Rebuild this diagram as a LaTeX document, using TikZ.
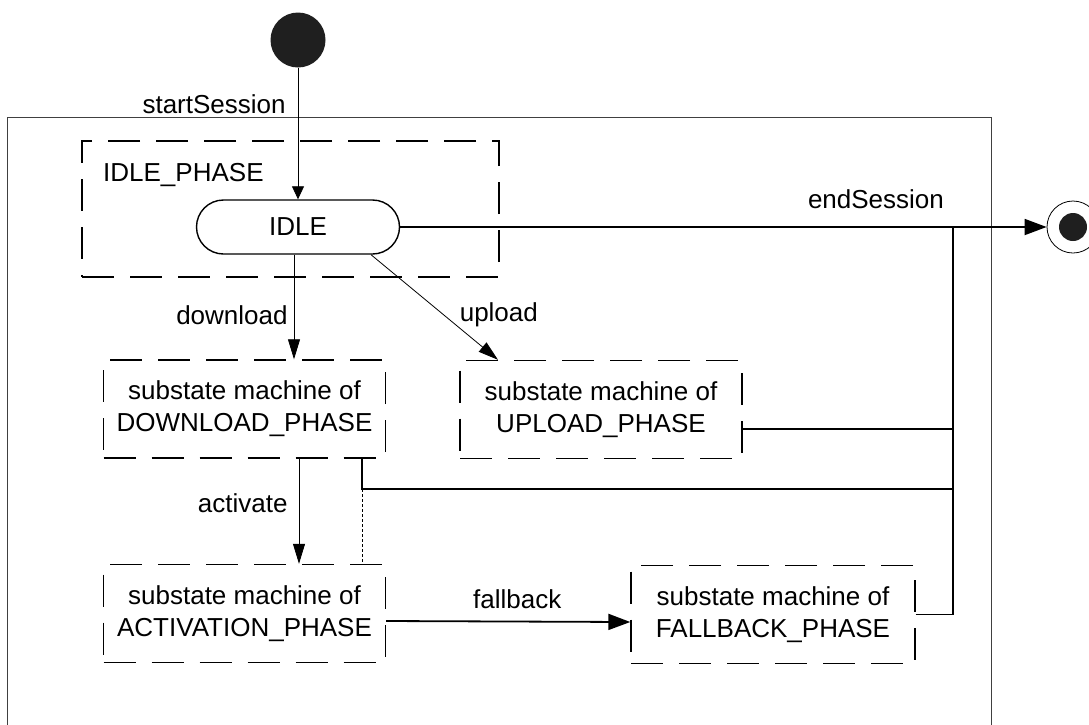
\documentclass[tikz,border=0pt]{standalone}
\usepackage{fontspec}
\setmainfont{Liberation Sans}
\usetikzlibrary{arrows.meta,positioning}

\begin{document}
\begin{tikzpicture}[x=1pt,y=-1pt,font=\fontsize{26}{32}\selectfont]
                        \tikzstyle{machine}=[draw=black!75, line width=0.8pt, minimum width=984pt, minimum height=640pt, anchor=north west, inner sep=0pt]
                        \tikzstyle{phase}=[draw, line width=1.4pt, dash pattern=on 32pt off 16pt, minimum width=282pt, minimum height=98pt, align=center, inner sep=0pt]
                        \tikzstyle{state}=[draw, line width=1.4pt, rounded corners=27pt, minimum width=203pt, minimum height=54pt, inner sep=0pt]
                        \tikzstyle{startdot}=[circle, fill=black!88, minimum size=55pt, inner sep=0pt]
                        \tikzstyle{enddot}=[circle, draw, line width=0.8pt, minimum size=52pt, inner sep=0pt, path picture={\fill[black!88] (path picture bounding box.center) circle (14pt);}]
                        \tikzstyle{flow}=[line width=0.8pt, -{Triangle[length=20pt,width=12pt]}]
                        \tikzstyle{bigflow}=[line width=1.8pt, -{Triangle[length=22pt,width=16pt]}]
                        \tikzstyle{bus}=[line width=1.8pt]
                        \tikzstyle{lbl}=[inner sep=0pt]
                        \useasboundingbox (0,0) rectangle (1089,724);
                        \node[machine] (machine) at (7,117) {};
                        \node[startdot] (start) at (298,40) {};
                        \node[phase, minimum width=417pt, minimum height=136pt] (idlephase) at (290.5,209) {};
                        \node[lbl, anchor=west] (idletitle) at (103,175) {IDLE\_PHASE};
                        \node[state] (idle) at (298,227) {IDLE};
                        \node[phase] (download) at (244.5,409) {substate machine of\\DOWNLOAD\_PHASE};
                        \node[phase] (upload) at (601,409.5) {substate machine of\\UPLOAD\_PHASE};
                        \node[phase] (activation) at (244.5,613.5) {substate machine of\\ACTIVATION\_PHASE};
                        \node[phase, minimum width=284pt] (fallback) at (773,614.5) {substate machine of\\FALLBACK\_PHASE};
                        \node[enddot] (end) at (1073,227) {};
                        \coordinate (bustop) at (953,227);
                        \coordinate (tap) at (362,489);
                        \coordinate (uptap) at (741,429);
                        \draw[flow, -{Triangle[length=13pt,width=12pt]}] (start) -- node[lbl, left=12pt, pos=0.274] {startSession} (idle);
                        \draw[flow] ([xshift=-4pt]idle.south) -- node[lbl, left=6pt, pos=0.58] {download} ([xshift=49.5pt]download.north);
                        \draw[flow] ([xshift=73pt]idle.south) -- node[lbl, right=16pt, pos=0.57] {upload} ([xshift=-103pt]upload.north);
                        \draw[bigflow] (idle.east) -- node[lbl, above=17pt, pos=0.736] {endSession} (end);
                        \draw[flow] ([xshift=54.5pt]download.south) -- node[lbl, left=11pt, pos=0.42] {activate} ([xshift=54.5pt]activation.north);
                        \draw[bigflow] ([yshift=-7.5pt]activation.east) -- node[lbl, above=12pt, pos=0.537] {fallback} ([yshift=-7.5pt]fallback.west);
                        \draw[bus] (fallback.east) -| (bustop);
                        \draw[bus] (uptap) -- (uptap -| bustop);
                        \draw[bus] (tap |- download.south) -- (tap) -- (tap -| bustop);
                        \draw[line width=0.8pt, dash pattern=on 3pt off 2pt] (tap) -- (tap |- activation.north);
                    \end{tikzpicture}
\end{document}
